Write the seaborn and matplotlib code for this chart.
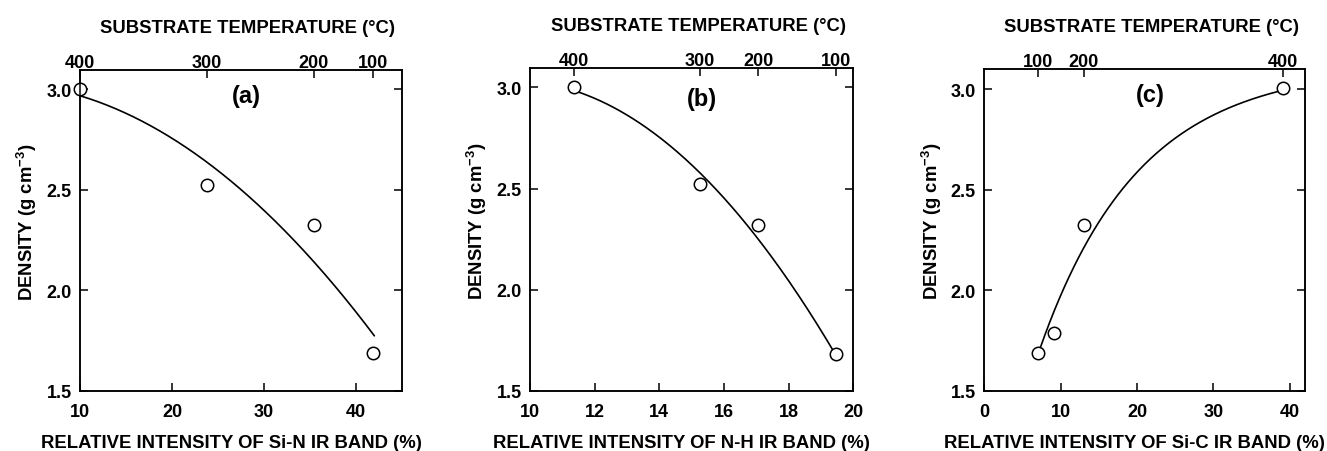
import numpy as np
import pandas as pd
import matplotlib
matplotlib.use("Agg")
import matplotlib.pyplot as plt
import seaborn as sns

# ---------------- data ----------------
# Panel (a): Si-N band
sin_intensity = [10.0, 23.8, 35.4, 41.9]
sin_density = [3.00, 2.525, 2.325, 1.687]
sin_temp = [400, 300, 200, 100]

# Panel (b): N-H band
nh_intensity = [11.37, 15.26, 17.06, 19.46]
nh_density = [3.00, 2.524, 2.32, 1.683]
nh_temp = [400, 300, 200, 100]

# Panel (c): Si-C band
sic_intensity = [7.1, 9.1, 13.0, 39.1]
sic_density = [1.687, 1.788, 2.325, 3.005]
sic_temp = [100, None, 200, 400]

# fitted guide curves as drawn in the reference
fit_a_poly = [-0.000734, 0.000854, 3.0319]
fit_a_range = [10.0, 42.0]
fit_b_poly = [-0.013573, 0.25681, 1.81877]
fit_b_range = [11.37, 19.40]
fit_c_exp = [3.1163, 2.4673, 13.0]   # A - B*exp(-x/tau)
fit_c_range = [7.3, 39.1]

xlabels = ["RELATIVE INTENSITY OF Si-N IR BAND (%)",
           "RELATIVE INTENSITY OF N-H IR BAND (%)",
           "RELATIVE INTENSITY OF Si-C IR BAND (%)"]
panel_tags = ["(a)", "(b)", "(c)"]
xlims = [(10, 45), (10, 20), (0, 42)]
xticks = [[10, 20, 30, 40], [10, 12, 14, 16, 18, 20], [0, 10, 20, 30, 40]]
yticks = [1.5, 2.0, 2.5, 3.0]
ylims = [(1.5, 3.095), (1.5, 3.096), (1.5, 3.10)]

# ---------------- style ----------------
sns.set_theme(style="ticks")
plt.rcParams["font.family"] = ["Liberation Sans", "DejaVu Sans"]
plt.rcParams["font.weight"] = "bold"
plt.rcParams["axes.labelweight"] = "bold"
plt.rcParams["text.color"] = "black"
plt.rcParams["axes.labelcolor"] = "black"
plt.rcParams["xtick.color"] = "black"
plt.rcParams["ytick.color"] = "black"
plt.rcParams["axes.edgecolor"] = "black"
plt.rcParams["mathtext.fontset"] = "custom"
plt.rcParams["mathtext.rm"] = "Liberation Sans:bold"
plt.rcParams["mathtext.bf"] = "Liberation Sans:bold"
plt.rcParams["mathtext.it"] = "Liberation Sans:bold"

TICK_FS = 13
LABEL_FS = 13.3
TAG_FS = 17

fig = plt.figure(figsize=(13.27, 4.52), dpi=100)

positions = [
    [0.0603, 0.1334, 0.2426, 0.7095],
    [0.3994, 0.1334, 0.2436, 0.7139],
    [0.7417, 0.1334, 0.2417, 0.7117],
]
tag_pos = [(0.518, 0.92), (0.531, 0.904), (0.517, 0.922)]

panels = [
    (sin_intensity, sin_density, sin_temp),
    (nh_intensity, nh_density, nh_temp),
    (sic_intensity, sic_density, sic_temp),
]

def curve(i):
    if i == 0:
        xs = np.linspace(*fit_a_range, 200)
        ys = np.polyval(fit_a_poly, xs)
    elif i == 1:
        xs = np.linspace(*fit_b_range, 200)
        ys = np.polyval(fit_b_poly, xs)
    else:
        xs = np.linspace(*fit_c_range, 200)
        A, B, tau = fit_c_exp
        ys = A - B * np.exp(-xs / tau)
    return pd.DataFrame({"x": xs, "y": ys})

for i, (xv, yv, tv) in enumerate(panels):
    ax = fig.add_axes(positions[i])
    df = pd.DataFrame({"x": xv, "y": yv})
    cdf = curve(i)
    sns.lineplot(data=cdf, x="x", y="y", ax=ax, color="black", lw=1.2,
                 sort=False, estimator=None)
    sns.scatterplot(data=df, x="x", y="y", ax=ax, marker="o", s=80,
                    facecolor="white", edgecolor="black", linewidth=1.1,
                    zorder=5, clip_on=False)
    ax.set_xlim(*xlims[i])
    ax.set_ylim(*ylims[i])
    ax.set_xticks(xticks[i])
    ax.set_xticklabels([str(t) for t in xticks[i]])
    ax.set_yticks(yticks)
    ax.set_yticklabels([f"{t:.1f}" for t in yticks])
    ax.tick_params(axis="both", direction="in", length=6, width=1.1,
                   labelsize=TICK_FS, color="black", labelcolor="black")
    ax.tick_params(axis="x", pad=9, top=False)
    ax.tick_params(axis="y", pad=6, right=True, labelright=False)
    for lab in ax.get_xticklabels() + ax.get_yticklabels():
        lab.set_fontweight("bold")
    for s in ax.spines.values():
        s.set_linewidth(1.1)
        s.set_color("black")
    ax.set_xlabel(xlabels[i], fontsize=LABEL_FS, fontweight="bold",
                  labelpad=10, color="black")
    ax.xaxis.label.set_x(0.5 - 10 / 322)
    ax.set_ylabel(r"DENSITY (g cm$^{-3}$)", fontsize=LABEL_FS, fontweight="bold",
                  labelpad=5, color="black")
    ax.yaxis.label.set_y(0.5 + 9 / 320)
    ax.text(tag_pos[i][0], tag_pos[i][1], panel_tags[i], transform=ax.transAxes,
            ha="center", va="center", fontsize=TAG_FS, fontweight="bold",
            color="black")

    top = ax.twiny()
    top.set_xlim(ax.get_xlim())
    tx = [x for x, t in zip(xv, tv) if t is not None]
    tl = [str(t) for t in tv if t is not None]
    top.set_xticks(tx)
    top.set_xticklabels(tl)
    top.tick_params(axis="x", direction="in", length=6, width=1.1, pad=-1,
                    labelsize=TICK_FS, color="black", labelcolor="black")
    for lab in top.get_xticklabels():
        lab.set_fontweight("bold")
    for s in top.spines.values():
        s.set_linewidth(1.1)
        s.set_color("black")
    top.set_xlabel("SUBSTRATE TEMPERATURE (°C)", fontsize=LABEL_FS,
                   fontweight="bold", labelpad=16, color="black")
    top.xaxis.label.set_x(0.5 + 7 / 322)

fig.savefig("out.png", dpi=100, facecolor="white")
